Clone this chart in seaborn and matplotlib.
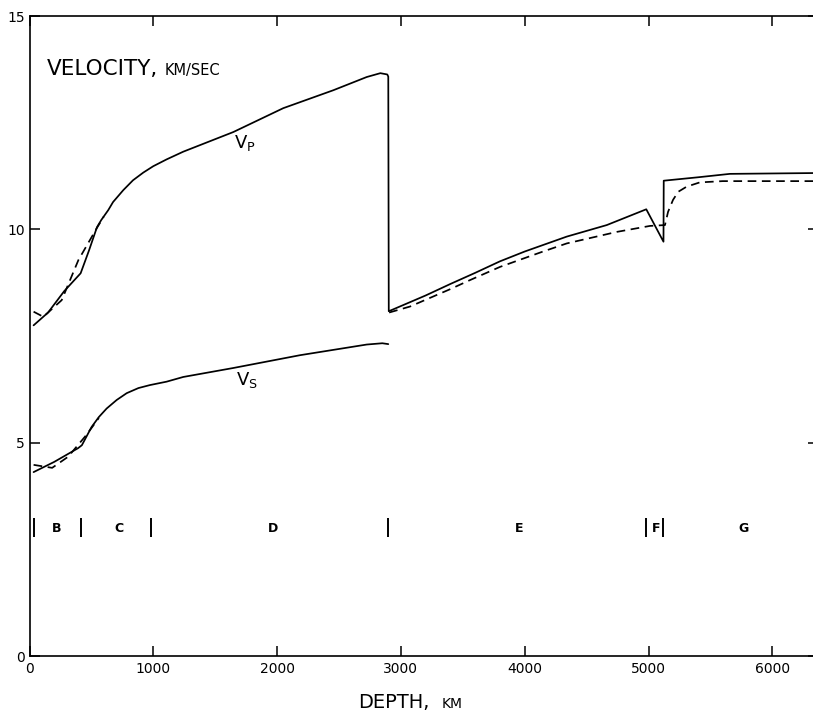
import numpy as np
import pandas as pd
import matplotlib
matplotlib.use("Agg")
import matplotlib.pyplot as plt
import seaborn as sns

# ---- data (depth km, velocity km/s) ----
vp_solid_depth = [33, 150, 280, 413, 480, 545, 580, 636, 675, 758, 836, 919, 1000, 1108, 1242, 1646, 2050, 2454, 2724, 2834, 2890, 2898,
                  2902, 3200, 3400, 3600, 3800, 4000, 4340, 4663, 4982, 5121, 5123, 5400, 5657, 6371]
vp_solid_vel = [7.75, 8.05, 8.55, 8.97, 9.50, 10.05, 10.22, 10.45, 10.64, 10.92, 11.15, 11.33, 11.48, 11.64, 11.82, 12.28, 12.84, 13.26, 13.57, 13.66, 13.63, 13.58,
                8.08, 8.45, 8.72, 8.98, 9.25, 9.48, 9.83, 10.10, 10.47, 9.71, 11.14, 11.22, 11.30, 11.32]

vp_dash_mantle_depth = [33, 112, 260, 395, 542, 600]
vp_dash_mantle_vel = [8.07, 7.95, 8.34, 9.28, 10.02, 10.30]

vp_dash_core_depth = [2905, 3073, 3400, 3558, 3801, 4148, 4340, 4744, 5012, 5133, 5158, 5198, 5240, 5308, 5414, 5600, 6371]
vp_dash_core_vel = [8.05, 8.19, 8.60, 8.81, 9.12, 9.48, 9.67, 9.94, 10.08, 10.10, 10.41, 10.69, 10.88, 11.00, 11.10, 11.13, 11.13]

vs_solid_depth = [33, 200, 392, 423, 502, 560, 623, 704, 785, 880, 973, 1108, 1242, 1646, 2185, 2724, 2850, 2898]
vs_solid_vel = [4.31, 4.55, 4.87, 4.94, 5.37, 5.60, 5.80, 6.00, 6.16, 6.28, 6.35, 6.43, 6.54, 6.75, 7.05, 7.30, 7.33, 7.31]

vs_dash_depth = [33, 183, 312, 448, 505, 560]
vs_dash_vel = [4.48, 4.41, 4.67, 5.14, 5.36, 5.58]

zone_bounds = [33, 413, 984, 2898, 4982, 5121]
zone_names = ["B", "C", "D", "E", "F", "G"]
zone_label_x = [223, 720, 1965, 3955, 5060, 5765]

x_ticks = [0, 1000, 2000, 3000, 4000, 5000, 6000]
y_ticks = [0, 5, 10, 15]

curves = [
    ("vp_solid", vp_solid_depth, vp_solid_vel, "-"),
    ("vp_dash_m", vp_dash_mantle_depth, vp_dash_mantle_vel, "--"),
    ("vp_dash_c", vp_dash_core_depth, vp_dash_core_vel, "--"),
    ("vs_solid", vs_solid_depth, vs_solid_vel, "-"),
    ("vs_dash", vs_dash_depth, vs_dash_vel, "--"),
]

sns.set_style("ticks")
plt.rcParams['font.family'] = ['DejaVu Sans']
plt.rcParams['text.color'] = 'black'
plt.rcParams['xtick.color'] = 'black'
plt.rcParams['ytick.color'] = 'black'
plt.rcParams['xtick.labelcolor'] = 'black'
plt.rcParams['ytick.labelcolor'] = 'black'

W, H = 813, 711
fig = plt.figure(figsize=(W / 100, H / 100), dpi=100)
ax_left, ax_bottom_px, ax_top_px = 29.5, 656, 16
px_per_km = 0.1238
ax_w = 6371 * px_per_km
ax = fig.add_axes([ax_left / W, (H - ax_bottom_px) / H, ax_w / W, (ax_bottom_px - ax_top_px) / H])

for name, d, v, ls in curves:
    df = pd.DataFrame({"depth": d, "vel": v})
    if ls == "-":
        sns.lineplot(data=df, x="depth", y="vel", ax=ax, color="black", lw=1.25,
                     estimator=None, sort=False)
    else:
        sns.lineplot(data=df, x="depth", y="vel", ax=ax, color="black", lw=1.25,
                     estimator=None, sort=False, linestyle=(0, (5, 3.2)))

ax.set_xlim(0, 6371)
ax.set_ylim(0, 15)
ax.set_xticks(x_ticks)
ax.set_yticks(y_ticks)
ax.set_xticklabels([str(t) for t in x_ticks])
ax.set_yticklabels([str(t) for t in y_ticks])
ax.set_xlabel("")
ax.set_ylabel("")
ax.tick_params(direction="in", length=7, width=1.1, top=True, right=True,
               labeltop=False, labelright=False, labelsize=10, colors="black")
ax.tick_params(axis="y", pad=3.5)
ax.tick_params(axis="x", pad=4.5)
for s in ax.spines.values():
    s.set_visible(True)
    s.set_linewidth(1.2)
    s.set_color("black")

# zone boundary bars and labels
ax.vlines(zone_bounds, 2.79, 3.23, color="black", lw=1.4)
for nm, xl in zip(zone_names, zone_label_x):
    ax.text(xl, 3.0, nm, ha="center", va="center", fontsize=9, fontweight="bold", color="black")

# curve labels
ax.text(1741, 12.02, r"$\mathregular{V_P}$", ha="center", va="center", fontsize=13, color="black")
ax.text(1757, 6.47, r"$\mathregular{V_S}$", ha="center", va="center", fontsize=13, color="black")

# axis titles
ax.text(141, 13.62, "VELOCITY,", ha="left", va="baseline", fontsize=15.5, color="black")
ax.text(1094, 13.62, "KM/SEC", ha="left", va="baseline", fontsize=10.5, color="black")
fig.text(358 / W, 3.5 / H, "DEPTH,", ha="left", va="baseline", fontsize=14, color="black")
fig.text(442 / W, 3.5 / H, "KM", ha="left", va="baseline", fontsize=10, color="black")

fig.savefig("out.png", dpi=100, facecolor="white")
